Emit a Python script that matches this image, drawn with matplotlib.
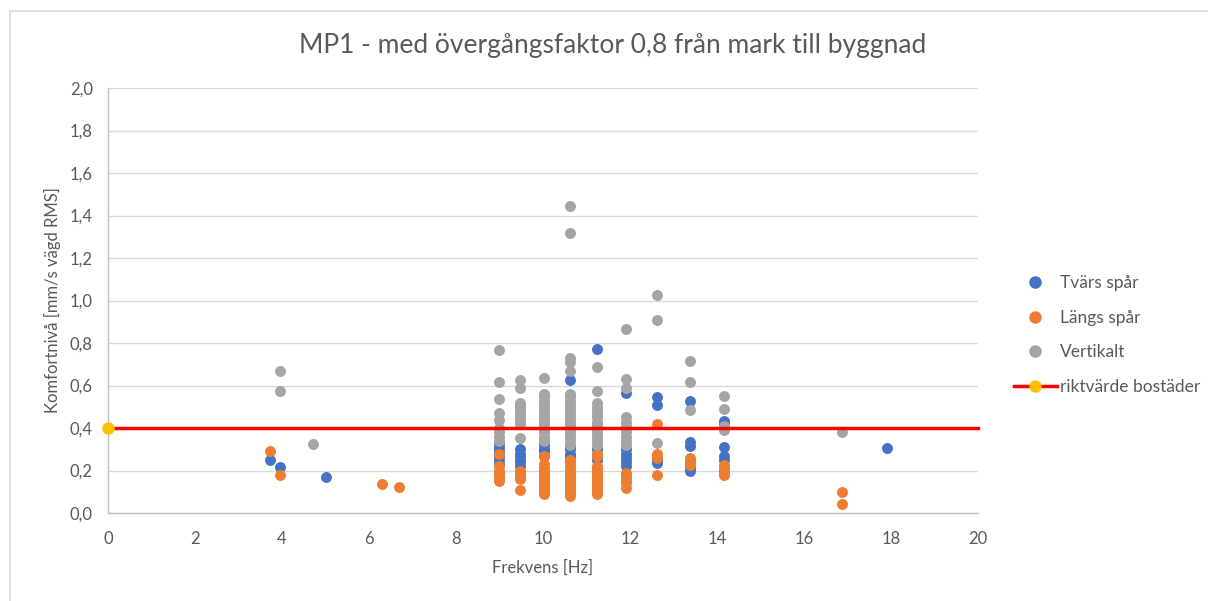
import matplotlib.pyplot as plt
from matplotlib.lines import Line2D
from matplotlib.patches import Rectangle

# Tvärs spår (blue)
tvars_f = [3.73, 3.96, 5.0, 17.9,
           8.98, 8.98, 8.98, 8.98, 8.98, 8.98,
           9.47, 9.47, 9.47, 9.47, 9.47, 9.47,
           10.02, 10.02, 10.02, 10.02, 10.02,
           10.62, 10.62, 10.62, 10.62, 10.62, 10.62,
           11.24, 11.24, 11.24, 11.24, 11.24,
           11.91, 11.91, 11.91, 11.91, 11.91, 11.91,
           12.63, 12.63, 12.63, 12.63,
           13.39, 13.39, 13.39, 13.39, 13.39,
           14.17, 14.17, 14.17, 14.17, 14.17, 14.17]
tvars_v = [0.249, 0.217, 0.171, 0.304,
           0.33, 0.31, 0.29, 0.27, 0.25, 0.23,
           0.30, 0.28, 0.27, 0.25, 0.24, 0.22,
           0.34, 0.32, 0.30, 0.29, 0.27,
           0.625, 0.31, 0.30, 0.28, 0.27, 0.25,
           0.77, 0.30, 0.28, 0.27, 0.25,
           0.565, 0.30, 0.28, 0.26, 0.24, 0.22,
           0.544, 0.508, 0.25, 0.235,
           0.525, 0.336, 0.315, 0.21, 0.197,
           0.434, 0.42, 0.3125, 0.266, 0.25, 0.20]

# Längs spår (orange)
langs_f = [3.73, 3.96, 6.31, 6.68, 16.87, 16.87,
           8.98, 8.98, 8.98, 8.98, 8.98, 8.98, 8.98, 8.98,
           9.47, 9.47, 9.47, 9.47, 9.47, 9.47,
           10.02, 10.02, 10.02, 10.02, 10.02, 10.02, 10.02, 10.02,
           10.02, 10.02, 10.02, 10.02, 10.02, 10.02, 10.02,
           10.62, 10.62, 10.62, 10.62, 10.62, 10.62, 10.62, 10.62, 10.62,
           10.62, 10.62, 10.62, 10.62, 10.62, 10.62, 10.62, 10.62,
           11.24, 11.24, 11.24, 11.24, 11.24, 11.24, 11.24, 11.24,
           11.24, 11.24, 11.24, 11.24, 11.24, 11.24, 11.24, 11.24,
           11.91, 11.91, 11.91, 11.91, 11.91, 11.91,
           12.63, 12.63, 12.63, 12.63, 12.63,
           13.39, 13.39, 13.39, 13.39,
           14.17, 14.17, 14.17, 14.17]
langs_v = [0.292, 0.179, 0.136, 0.124, 0.100, 0.042,
           0.28, 0.22, 0.20, 0.19, 0.18, 0.17, 0.16, 0.15,
           0.20, 0.19, 0.18, 0.17, 0.16, 0.106,
           0.27, 0.23, 0.21, 0.20, 0.19, 0.18, 0.17, 0.16,
           0.15, 0.14, 0.13, 0.12, 0.11, 0.10, 0.09,
           0.25, 0.24, 0.22, 0.21, 0.20, 0.19, 0.18, 0.17, 0.16,
           0.15, 0.14, 0.13, 0.12, 0.11, 0.10, 0.09, 0.08,
           0.28, 0.27, 0.22, 0.21, 0.20, 0.19, 0.18, 0.17,
           0.16, 0.15, 0.14, 0.13, 0.12, 0.11, 0.10, 0.09,
           0.19, 0.18, 0.16, 0.15, 0.14, 0.12,
           0.419, 0.28, 0.27, 0.26, 0.177,
           0.26, 0.25, 0.235, 0.225,
           0.227, 0.21, 0.19, 0.18]

# Vertikalt (grey)
vert_f = [3.96, 3.96, 4.72, 16.87,
          8.98, 8.98, 8.98, 8.98, 8.98, 8.98, 8.98, 8.98, 8.98,
          9.47, 9.47, 9.47, 9.47, 9.47, 9.47, 9.47, 9.47, 9.47, 9.47, 9.47, 9.47,
          10.02, 10.02, 10.02, 10.02, 10.02, 10.02, 10.02, 10.02, 10.02, 10.02,
          10.02, 10.02, 10.02, 10.02, 10.02, 10.02, 10.02, 10.02, 10.02,
          10.62, 10.62, 10.62, 10.62, 10.62, 10.62, 10.62, 10.62, 10.62, 10.62,
          10.62, 10.62, 10.62, 10.62, 10.62, 10.62, 10.62, 10.62, 10.62, 10.62,
          10.62, 10.62, 10.62,
          11.24, 11.24, 11.24, 11.24, 11.24, 11.24, 11.24, 11.24, 11.24,
          11.24, 11.24, 11.24, 11.24, 11.24, 11.24, 11.24, 11.24,
          11.91, 11.91, 11.91, 11.91, 11.91, 11.91, 11.91, 11.91, 11.91, 11.91, 11.91,
          12.63, 12.63, 12.63,
          13.39, 13.39, 13.39,
          14.17, 14.17, 14.17, 14.17, 14.17]
vert_v = [0.668, 0.574, 0.323, 0.380,
          0.766, 0.617, 0.536, 0.47, 0.44, 0.40, 0.38, 0.36, 0.34,
          0.625, 0.586, 0.52, 0.51, 0.50, 0.49, 0.48, 0.47, 0.45, 0.44, 0.42, 0.355,
          0.633, 0.56, 0.55, 0.53, 0.52, 0.50, 0.49, 0.47, 0.46, 0.45,
          0.44, 0.43, 0.42, 0.40, 0.39, 0.38, 0.36, 0.35, 0.34,
          1.445, 1.316, 0.73, 0.71, 0.67, 0.56, 0.55, 0.53, 0.52, 0.50,
          0.49, 0.48, 0.46, 0.45, 0.44, 0.42, 0.41, 0.40, 0.38, 0.37,
          0.36, 0.34, 0.32,
          0.6875, 0.575, 0.52, 0.50, 0.49, 0.47, 0.46, 0.45, 0.43,
          0.42, 0.41, 0.40, 0.38, 0.37, 0.36, 0.34, 0.32,
          0.864, 0.63, 0.586, 0.45, 0.43, 0.41, 0.40, 0.38, 0.36, 0.34, 0.32,
          1.027, 0.906, 0.33,
          0.714, 0.617, 0.484,
          0.55, 0.49, 0.41, 0.40, 0.39]

# riktvärde bostäder
rikt_f = [0, 20]
rikt_v = [0.4, 0.4]

x_ticks = [0, 2, 4, 6, 8, 10, 12, 14, 16, 18, 20]
y_ticks = [0.0, 0.2, 0.4, 0.6, 0.8, 1.0, 1.2, 1.4, 1.6, 1.8, 2.0]

BLUE = '#4472C4'
ORANGE = '#ED7D31'
GREY = '#A5A5A5'
TXT = '#595959'

plt.rcParams['font.family'] = ['Lato', 'DejaVu Sans']

fig = plt.figure(figsize=(12.08, 6.01), dpi=100)
ax = fig.add_axes([108 / 1208, 88 / 601, 870 / 1208, 425 / 601])
fig.patches.append(Rectangle((10 / 1208, -0.1), 1.2, (601 - 11) / 601 + 0.1,
                             transform=fig.transFigure, fill=False,
                             edgecolor='#d9d9d9', linewidth=1.2))

ms = 62
ax.scatter(tvars_f, tvars_v, s=ms, color=BLUE, zorder=3, linewidths=0)
ax.scatter(langs_f, langs_v, s=ms, color=ORANGE, zorder=3, linewidths=0)
ax.scatter(vert_f, vert_v, s=ms, color=GREY, zorder=3, linewidths=0)
ax.plot(rikt_f, rikt_v, color='#FF0000', linewidth=2.5, zorder=4,
        marker='o', markersize=8, markerfacecolor='#FFC000',
        markeredgecolor='#FFC000', markevery=[0], clip_on=False)

ax.set_xlim(0, 20)
ax.set_ylim(0, 2.0)
ax.set_xticks(x_ticks)
ax.set_xticklabels([str(t) for t in x_ticks])
ax.set_yticks(y_ticks)
ax.set_yticklabels([f'{t:.1f}'.replace('.', ',') for t in y_ticks])
ax.tick_params(length=0, labelsize=12, colors=TXT)
ax.tick_params(axis='x', pad=13)
ax.tick_params(axis='y', pad=11)
ax.grid(axis='y', color='#d9d9d9', linewidth=1)
ax.set_axisbelow(True)
for side in ['top', 'right']:
    ax.spines[side].set_visible(False)
for side in ['left', 'bottom']:
    ax.spines[side].set_color('#bfbfbf')
    ax.spines[side].set_linewidth(1)

ax.set_xlabel('Frekvens [Hz]', fontsize=12, color=TXT, labelpad=9)
ax.set_ylabel('Komfortnivå [mm/s vägd RMS]', fontsize=12, color=TXT, labelpad=6)
fig.text(613 / 1208, 1 - 45 / 601, 'MP1 - med övergångsfaktor 0,8 från mark till byggnad',
         ha='center', va='center', fontsize=19, color=TXT)

handles = [
    Line2D([], [], linestyle='none', marker='o', markersize=8, color=BLUE),
    Line2D([], [], linestyle='none', marker='o', markersize=8, color=ORANGE),
    Line2D([], [], linestyle='none', marker='o', markersize=8, color=GREY),
    Line2D([], [], color='#FF0000', linewidth=2.5, marker='o', markersize=8,
           markerfacecolor='#FFC000', markeredgecolor='#FFC000'),
]
labels = ['Tvärs spår', 'Längs spår', 'Vertikalt', 'riktvärde bostäder']
leg = fig.legend(handles, labels, loc='center left',
                 bbox_to_anchor=(998 / 1208, 1 - 335 / 601), frameon=False,
                 fontsize=12.5, labelspacing=1.08, handlelength=2.5, handletextpad=0.15)
for t in leg.get_texts():
    t.set_color(TXT)

fig.savefig('out.png', dpi=100)
